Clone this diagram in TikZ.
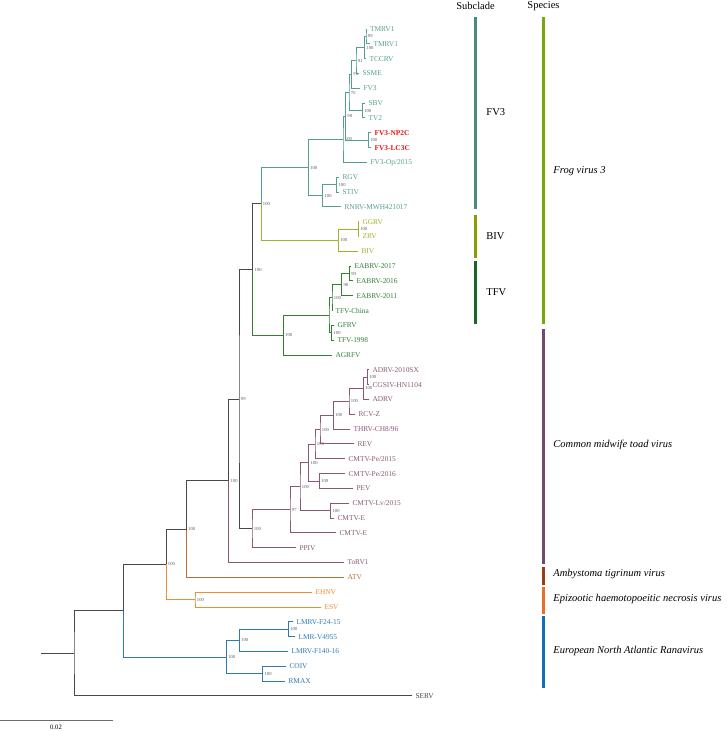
\documentclass[tikz,border=0pt]{standalone}
\usepackage{fontspec}
\setmainfont{Liberation Serif}
\usetikzlibrary{positioning}
\usepackage{xcolor}
\definecolor{fvTeal}{RGB}{86,158,146}
\definecolor{bivOlive}{RGB}{158,178,42}
\definecolor{tfvGreen}{RGB}{52,126,52}
\definecolor{cmtMauve}{RGB}{138,88,118}
\definecolor{atvBrown}{RGB}{184,112,52}
\definecolor{ehnOrange}{RGB}{236,142,52}
\definecolor{enaBlue}{RGB}{48,122,178}
\definecolor{stemGrey}{RGB}{72,72,72}
\definecolor{fvRed}{RGB}{232,22,22}
\definecolor{barTeal}{RGB}{70,140,128}
\definecolor{barOlive}{RGB}{138,160,0}
\definecolor{barGreen}{RGB}{28,100,40}
\definecolor{barLime}{RGB}{118,168,8}
\definecolor{barPurple}{RGB}{118,70,108}
\definecolor{barBrown}{RGB}{150,62,20}
\definecolor{barOrange}{RGB}{232,112,40}
\definecolor{barBlue}{RGB}{22,108,188}

\begin{document}
\begin{tikzpicture}[
    % 1 unit = 1pt = 1 pixel of the 728x731 figure, y runs downwards
    x=1pt, y=-1pt,
    leaf/.style={anchor=west, inner sep=1pt, outer sep=2.5pt,
                 text height=4.9pt, text depth=0pt,
                 font=\fontsize{7.4}{8}\selectfont},
    sup/.style={font=\fontsize{4.6}{5}\selectfont, text=black!65,
                inner sep=0.5pt, label distance=1pt},
    hdr/.style={font=\fontsize{10.5}{12}\selectfont, inner sep=0pt},
    grp/.style={anchor=west, font=\fontsize{10.5}{12}\selectfont, inner sep=0pt},
    spc/.style={anchor=west, font=\fontsize{10.5}{12}\selectfont\itshape, inner sep=0pt},
    bar/.style={line width=3pt},
    every path/.style={line width=0.9pt, line cap=rect},
    fvclade/.style={color=fvTeal},
    bivclade/.style={color=bivOlive},
    tfvclade/.style={color=tfvGreen},
    cmtclade/.style={color=cmtMauve},
    atvclade/.style={color=atvBrown},
    ehnclade/.style={color=ehnOrange},
    enaclade/.style={color=enaBlue},
    stem/.style={color=stemGrey},
    novel/.style={color=fvRed, font=\fontsize{7.4}{8}\selectfont\bfseries}
  ]
  \useasboundingbox (0,0) rectangle (728,731);

  % ── Tips ─────────────────────────────────────────────────────────────
  \node[leaf, fvclade]  (tmrva)  at (366.5,29.0)  {TMRV1};
  \node[leaf, fvclade]  (tmrvb)  at (370,43.8)    {TMRV1};
  \node[leaf, fvclade]  (tccrv)  at (366,58.6)    {TCCRV};
  \node[leaf, fvclade]  (ssme)   at (359,73.5)    {SSME};
  \node[leaf, fvclade]  (fvthr)  at (360,88.3)    {FV3};
  \node[leaf, fvclade]  (sbv)    at (365,103.1)   {SBV};
  \node[leaf, fvclade]  (tvtwo)  at (365,117.9)   {TV2};
  \node[leaf, novel]    (npc)    at (371,132.7)   {FV3-NP2C};
  \node[leaf, novel]    (lcc)    at (371,147.6)   {FV3-LC3C};
  \node[leaf, fvclade]  (fvop)   at (367,162.4)   {FV3-Op/2015};
  \node[leaf, fvclade]  (rgv)    at (339,177.2)   {RGV};
  \node[leaf, fvclade]  (stiv)   at (339,192.0)   {STIV};
  \node[leaf, fvclade]  (rnrv)   at (341,206.8)   {RNRV-MWH421017};
  \node[leaf, bivclade] (ggrv)   at (359,221.7)   {GGRV};
  \node[leaf, bivclade] (zrv)    at (359,236.5)   {ZRV};
  \node[leaf, bivclade] (bivtip) at (358,251.3)   {BIV};
  \node[leaf, tfvclade] (eabra)  at (351,266.1)   {EABRV-2017};
  \node[leaf, tfvclade] (eabrb)  at (353,280.9)   {EABRV-2016};
  \node[leaf, tfvclade] (eabrc)  at (353,295.8)   {EABRV-2011};
  \node[leaf, tfvclade] (tfvch)  at (332,310.6)   {TFV-China};
  \node[leaf, tfvclade] (gfrv)   at (334,325.4)   {GFRV};
  \node[leaf, tfvclade] (tfvold) at (334,340.2)   {TFV-1998};
  \node[leaf, tfvclade] (agrfv)  at (332,355.0)   {AGRFV};
  \node[leaf, cmtclade] (adrvsx) at (369,369.8)   {ADRV-2010SX};
  \node[leaf, cmtclade] (cgsiv)  at (369,384.7)   {CGSIV-HN1104};
  \node[leaf, cmtclade] (adrv)   at (369,399.5)   {ADRV};
  \node[leaf, cmtclade] (rcvz)   at (355,414.3)   {RCV-Z};
  \node[leaf, cmtclade] (thrv)   at (350,429.1)   {THRV-CH8/96};
  \node[leaf, cmtclade] (rev)    at (354,443.9)   {REV};
  \node[leaf, cmtclade] (cmpea)  at (345,458.8)   {CMTV-Pe/2015};
  \node[leaf, cmtclade] (cmpeb)  at (345,473.6)   {CMTV-Pe/2016};
  \node[leaf, cmtclade] (pev)    at (353,488.4)   {PEV};
  \node[leaf, cmtclade] (cmlv)   at (349,503.2)   {CMTV-Lv/2015};
  \node[leaf, cmtclade] (cmea)   at (334,518.0)   {CMTV-E};
  \node[leaf, cmtclade] (cmeb)   at (336,532.9)   {CMTV-E};
  \node[leaf, cmtclade] (ppiv)   at (296,547.7)   {PPIV};
  \node[leaf, cmtclade] (torv)   at (344,562.5)   {ToRV1};
  \node[leaf, atvclade] (atv)    at (344,577.3)   {ATV};
  \node[leaf, ehnclade] (ehnv)   at (312,592.2)   {EHNV};
  \node[leaf, ehnclade] (esv)    at (321,607.0)   {ESV};
  \node[leaf, enaclade] (lmra)   at (293,621.8)   {LMRV-F24-15};
  \node[leaf, enaclade] (lmrb)   at (295,636.6)   {LMR-V4955};
  \node[leaf, enaclade] (lmrc)   at (288,651.4)   {LMRV-F140-16};
  \node[leaf, enaclade] (coiv)   at (286,666.3)   {COIV};
  \node[leaf, enaclade] (rmax)   at (285,681.1)   {RMAX};
  \node[leaf, stem]     (serv)   at (412,695.9)   {SERV};

  % ── Internal nodes (support values as labels) ───────────────────────
  \coordinate[label={[sup]right:99}]  (a)     at (366,36.4);
  \coordinate[label={[sup]right:100}] (b)     at (364.5,47.5);
  \coordinate[label={[sup]right:91}]  (c)     at (356,60.5);
  \coordinate[label={[sup]right:96}]  (d)     at (351.5,74.4);
  \coordinate[label={[sup]right:100}] (sb)    at (362.3,110.5);
  \coordinate[label={[sup]right:76}]  (e)     at (349,92.5);
  \coordinate[label={[sup]right:100}] (np)    at (368.3,140.2);
  \coordinate[label={[sup]right:98}]  (wtwo)  at (345.5,116.4);
  \coordinate[label={[sup]right:100}] (w)     at (343,139.4);
  \coordinate[label={[sup]right:100}] (rg)    at (336.7,184.6);
  \coordinate[label={[sup]right:100}] (rn)    at (322.7,195.7);
  \coordinate[label={[sup]right:100}] (fvn)   at (308.3,167.6);
  \coordinate[label={[sup]right:100}] (gg)    at (358.3,229.1);
  \coordinate[label={[sup]right:100}] (bivn)  at (338.3,240.2);
  \coordinate[label={[sup]right:100}] (fb)    at (261,203.9);
  \coordinate[label={[sup]right:99}]  (ea)    at (349.3,273.5);
  \coordinate[label={[sup]right:98}]  (eb)    at (341.7,284.7);
  \coordinate[label={[sup]right:100}] (ec)    at (332,297.7);
  \coordinate[label={[sup]right:100}] (gf)    at (331.7,332.8);
  \coordinate                         (tf)    at (329,315.3);
  \coordinate[label={[sup]right:100}] (tfvn)  at (283.3,335.2);
  \coordinate[label={[sup]right:100}] (frog)  at (252.7,269.6);
  \coordinate[label={[sup]right:100}] (ad)    at (367.3,377.3);
  \coordinate[label={[sup]right:100}] (ae)    at (363.3,388.4);
  \coordinate[label={[sup]right:100}] (rc)    at (349,401.4);
  \coordinate[label={[sup]right:100}] (th)    at (333.3,415.3);
  \coordinate[label={[sup]right:100}] (re)    at (320,429.6);
  \coordinate[label={[sup]right:100}] (pa)    at (315,444.2);
  \coordinate[label={[sup]right:100}] (pb)    at (319.3,481.0);
  \coordinate[label={[sup]right:100}] (pc)    at (308.7,462.6);
  \coordinate[label={[sup]right:100}] (lv)    at (330.7,510.6);
  \coordinate[label={[sup]right:100}] (cm)    at (300,486.6);
  \coordinate[label={[sup]right:97}]  (cmb)   at (290,509.8);
  \coordinate[label={[sup]right:100}] (pp)    at (252,528.8);
  \coordinate[label={[sup]right:99}]  (ee)    at (239,399.2);
  \coordinate[label={[sup]right:100}] (dd)    at (228.7,480.9);
  \coordinate[label={[sup]right:100}] (cc)    at (186.3,529.1);
  \coordinate[label={[sup]right:100}] (eh)    at (195,599.6);
  \coordinate[label={[sup]right:100}] (bb)    at (166,564.4);
  \coordinate[label={[sup]right:100}] (lmtwo) at (288.3,629.2);
  \coordinate[label={[sup]right:100}] (lm)    at (239.3,640.3);
  \coordinate[label={[sup]right:100}] (cr)    at (262.7,673.7);
  \coordinate[label={[sup]right:100}] (ena)   at (226.3,657.0);
  \coordinate                         (aa)    at (123.3,610.7);
  \coordinate                         (root)  at (74,653.3);
  \coordinate                         (base)  at (41,653.3);

  % ── Branches ─────────────────────────────────────────────────────────
  % FV3 subclade
  \draw[fvclade] (tmrva) -| (a) |- (tmrvb);
  \draw[fvclade] (a) -| (b) |- (tccrv);
  \draw[fvclade] (b) -| (c) |- (ssme);
  \draw[fvclade] (c) -| (d) |- (fvthr);
  \draw[fvclade] (sbv) -| (sb) |- (tvtwo);
  \draw[fvclade] (d) -| (e) |- (sb);
  \draw[fvclade] (npc) -| (np) |- (lcc);
  \draw[fvclade] (e) -| (wtwo) |- (np);
  \draw[fvclade] (wtwo) -| (w) |- (fvop);
  \draw[fvclade] (rgv) -| (rg) |- (stiv);
  \draw[fvclade] (rg) -| (rn) |- (rnrv);
  \draw[fvclade] (w) -| (fvn) |- (rn);
  % BIV subclade
  \draw[bivclade] (ggrv) -| (gg) |- (zrv);
  \draw[bivclade] (gg) -| (bivn) |- (bivtip);
  \draw[fvclade] (fvn) -| (fb);
  \draw[bivclade] (fb) |- (bivn);
  % TFV subclade
  \draw[tfvclade] (eabra) -| (ea) |- (eabrb);
  \draw[tfvclade] (ea) -| (eb) |- (eabrc);
  \draw[tfvclade] (eb) -| (ec) |- (tfvch);
  \draw[tfvclade] (gfrv) -| (gf) |- (tfvold);
  \draw[tfvclade] (ec) -| (tf) |- (gf);
  \draw[tfvclade] (tf) -| (tfvn) |- (agrfv);
  \draw[stem] (fb) -| (frog);
  \draw[tfvclade] (frog) |- (tfvn);
  % Common midwife toad virus
  \draw[cmtclade] (adrvsx) -| (ad) |- (cgsiv);
  \draw[cmtclade] (ad) -| (ae) |- (adrv);
  \draw[cmtclade] (ae) -| (rc) |- (rcvz);
  \draw[cmtclade] (rc) -| (th) |- (thrv);
  \draw[cmtclade] (th) -| (re) |- (rev);
  \draw[cmtclade] (re) -| (pa) |- (cmpea);
  \draw[cmtclade] (cmpeb) -| (pb) |- (pev);
  \draw[cmtclade] (pa) -| (pc) |- (pb);
  \draw[cmtclade] (cmlv) -| (lv) |- (cmea);
  \draw[cmtclade] (pc) -| (cm) |- (lv);
  \draw[cmtclade] (cm) -| (cmb) |- (cmeb);
  \draw[cmtclade] (cmb) -| (pp) |- (ppiv);
  \draw[stem] (frog) -| (ee) |- (pp);
  % backbone and outer species
  \draw[stem] (ee) -| (dd);
  \draw[cmtclade] (dd) |- (torv);
  \draw[stem] (dd) -| (cc);
  \draw[atvclade] (cc) |- (atv);
  \draw[ehnclade] (ehnv) -| (eh) |- (esv);
  \draw[stem] (cc) -| (bb);
  \draw[ehnclade] (bb) |- (eh);
  % European North Atlantic Ranavirus
  \draw[enaclade] (lmra) -| (lmtwo) |- (lmrb);
  \draw[enaclade] (lmtwo) -| (lm) |- (lmrc);
  \draw[enaclade] (coiv) -| (cr) |- (rmax);
  \draw[enaclade] (lm) -| (ena) |- (cr);
  \draw[stem] (bb) -| (aa);
  \draw[enaclade] (aa) |- (ena);
  \draw[stem] (aa) -| (root) |- (serv);
  \draw[stem] (base) -- (root);

  % ── Subclade and species bars ───────────────────────────────────────
  \node[hdr] (subhdr) at (475.5,6) {Subclade};
  \node[hdr] (spchdr) at (543.5,6) {Species};

  \draw[bar, barTeal]  (475,18)  -- (475,207);
  \draw[bar, barOlive] (475,216) -- (475,256);
  \draw[bar, barGreen] (475,262) -- (475,322);
  \node[grp] (fvlab)  at (486,112) {FV3};
  \node[grp] (bivlab) at (486,236) {BIV};
  \node[grp] (tfvlab) at (486,292) {TFV};

  \draw[bar, barLime]   (543.5,18)  -- (543.5,322);
  \draw[bar, barPurple] (543.5,330) -- (543.5,562);
  \draw[bar, barBrown]  (543.5,568) -- (543.5,583);
  \draw[bar, barOrange] (543.5,588) -- (543.5,612);
  \draw[bar, barBlue]   (543.5,617) -- (543.5,686);
  \node[spc] (fvsp)  at (553,171) {Frog virus 3};
  \node[spc] (cmtsp) at (553,445) {Common midwife toad virus};
  \node[spc] (atvsp) at (553,574) {Ambystoma tigrinum virus};
  \node[spc] (ehnsp) at (553,599) {Epizootic haemotopoeitic necrosis virus};
  \node[spc] (enasp) at (553,651) {European North Atlantic Ranavirus};

  % ── Scale bar ────────────────────────────────────────────────────────
  \coordinate (scl) at (0,720);
  \coordinate (scr) at (113,720);
  \draw[stemGrey!80] (scl) -- (scr);
  \node[font=\fontsize{6.7}{7}\selectfont, inner sep=0pt] (sclab) at (56,727.5) {0.02};
\end{tikzpicture}
\end{document}
